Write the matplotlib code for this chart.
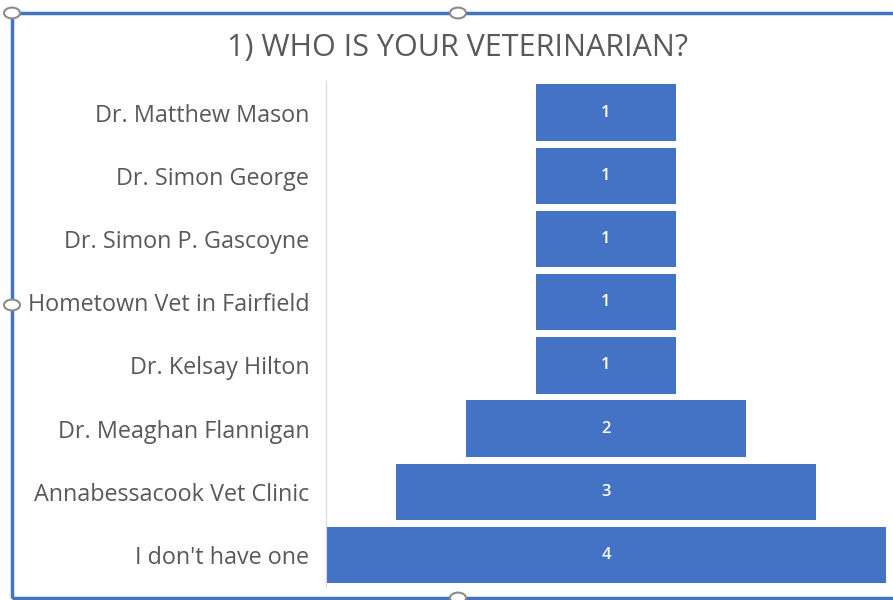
import matplotlib.pyplot as plt
from matplotlib.patches import Rectangle, Circle

# funnel data (top to bottom)
vets = ["Dr. Matthew Mason", "Dr. Simon George", "Dr. Simon P. Gascoyne",
        "Hometown Vet in Fairfield", "Dr. Kelsay Hilton", "Dr. Meaghan Flannigan",
        "Annabessacook Vet Clinic", "I don't have one"]
counts = [1, 1, 1, 1, 1, 2, 3, 4]

bar_color = "#4472C4"
text_color = "#595959"
plt.rcParams['font.family'] = ['Open Sans', 'DejaVu Sans']

fig = plt.figure(figsize=(8.93, 6), dpi=100)

# chart frame (selected chart in Excel)
frame = Rectangle((12 / 893, 2 / 600), 1.2, 585 / 600, transform=fig.transFigure,
                  fill=False, edgecolor=bar_color, linewidth=2.5)
fig.add_artist(frame)
for hx, hy in [(12, 587), (458, 587), (12, 295), (458, 2)]:
    fig.add_artist(Circle((hx / 893, hy / 600), 0.009, transform=fig.transFigure,
                          facecolor="white", edgecolor="#8c8c8c", linewidth=1.5))

ax = fig.add_axes([326 / 893, 13.4 / 600, 560 / 893, 505.6 / 600])
ypos = list(range(len(vets)))[::-1]
bars = ax.barh(ypos, counts, left=[-c / 2 for c in counts], height=0.89,
               color=bar_color)
for b, c in zip(bars, counts):
    ax.text(b.get_x() + b.get_width() / 2, b.get_y() + b.get_height() / 2, str(c),
            ha="center", va="center", color="white", fontsize=12, fontweight="semibold")

ax.set_xlim(-2, 2)
ax.set_ylim(-0.5, len(vets) - 0.5)
ax.set_yticks(ypos)
ax.set_yticklabels(vets, fontsize=16.8, color=text_color)
ax.tick_params(axis="y", length=0, pad=12)
ax.set_xticks([])
for side in ["top", "right", "bottom"]:
    ax.spines[side].set_visible(False)
ax.spines["left"].set_color("#d9d9d9")

fig.text(458 / 893, 1 - 48 / 600, "1) WHO IS YOUR VETERINARIAN?", ha="center",
         va="center", fontsize=22, color=text_color)

plt.savefig("out.png", dpi=100)
